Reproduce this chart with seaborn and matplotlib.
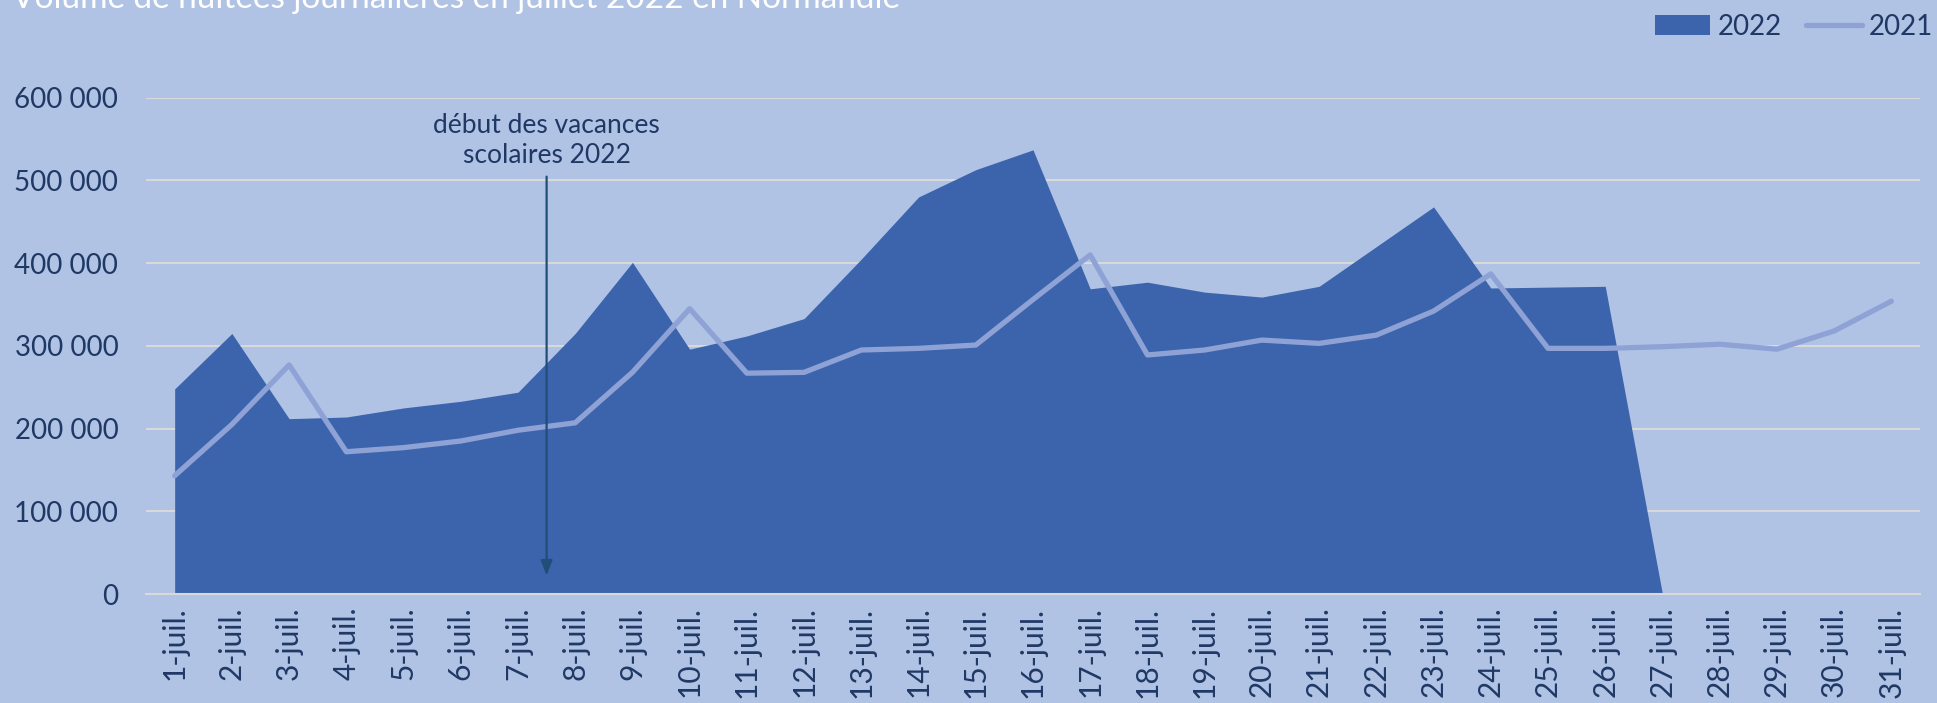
"""
Volume de nuitees journalieres en juillet 2022 en Normandie
- aire pleine pour 2022, courbe claire pour 2021
"""

import numpy as np
import pandas as pd
import matplotlib.pyplot as plt
from matplotlib.patches import Patch
from matplotlib.lines import Line2D
import seaborn as sns

# jours du mois de juillet
jours = [f'{d}-juil.' for d in range(1, 32)]

# nuitees 2022 (les donnees s'arretent au 27 juillet, a zero)
nuitees_2022 = [248000, 315000, 212000, 214000, 225000, 233000, 244000,
                315000, 401000, 296000, 312000, 333000, 405000, 480000,
                513000, 537000, 369000, 377000, 365000, 359000, 372000,
                420000, 468000, 370000, 371000, 372000, 0]

# nuitees 2021 (mois complet)
nuitees_2021 = [143000, 205000, 277000, 172000, 177000, 185000, 198000,
                207000, 268000, 345000, 267000, 268000, 295000, 297000,
                301000, 356000, 410000, 289000, 295000, 307000, 303000,
                313000, 342000, 387000, 297000, 297000, 299000, 302000,
                296000, 318000, 354000]

graduations = [0, 100000, 200000, 300000, 400000, 500000, 600000]

annotation = 'début des vacances\nscolaires 2022'
titre = 'Volume de nuitées journalières en juillet 2022 en Normandie'

# couleurs
FOND = '#B0C3E5'
AIRE = '#3C64AC'
LIGNE = '#8EA2D6'
GRILLE = '#D9D9D9'
TEXTE = '#1F3864'
FLECHE = '#1F4E79'


def prepare_data():
    df = pd.DataFrame({'jour': jours, 'n2021': nuitees_2021})
    df['pos'] = np.arange(len(df))
    # on complete 2022 avec des NA pour la fin du mois
    df['n2022'] = pd.Series(nuitees_2022, dtype=float)
    return df


def plot_nuitees(df):
    sns.set_style('white', {'axes.facecolor': FOND, 'figure.facecolor': FOND})
    plt.rcParams['font.family'] = ['Lato', 'DejaVu Sans']

    fig = plt.figure(figsize=(19.37, 7.03), dpi=100)
    ax = fig.add_axes([0.0754, 0.155, 0.9158, 0.706])

    # aire 2022
    d22 = df.dropna(subset=['n2022'])
    ax.fill_between(d22['pos'], 0, d22['n2022'], color=AIRE, lw=0, zorder=2)

    # courbe 2021
    sns.lineplot(data=df, x='pos', y='n2021', ax=ax, color=LIGNE, lw=3.8,
                 solid_capstyle='round', zorder=3)

    # fleche debut des vacances (entre le 7 et le 8 juillet)
    ax.annotate('', xy=(6.5, 19000), xytext=(6.5, 508000),
                arrowprops=dict(arrowstyle='-|>,head_length=0.9,head_width=0.35',
                                color=FLECHE, lw=1.6), zorder=4)
    ax.text(6.5, 548000, annotation, ha='center', va='center', fontsize=19,
            color=TEXTE, linespacing=1.25, zorder=4)

    # axes
    ax.set_xlim(-0.5, len(jours) - 0.5)
    ax.set_ylim(0, 600000)
    ax.set_xticks(df['pos'])
    ax.set_xticklabels(jours, rotation=90, fontsize=21.5, color=TEXTE)
    ax.set_xticks(np.arange(-0.5, len(jours), 1), minor=True)
    ax.tick_params(axis='x', which='major', length=0, pad=9)
    ax.tick_params(axis='x', which='minor', length=7, width=1.5, color=GRILLE)
    ax.set_yticks(graduations)
    ax.set_yticklabels([f'{v:,}'.replace(',', ' ') for v in graduations],
                       fontsize=20, color=TEXTE)
    ax.tick_params(axis='y', length=0, pad=20)
    ax.set_xlabel('')
    ax.set_ylabel('')

    ax.yaxis.grid(True, color=GRILLE, lw=1.5, zorder=1)
    ax.xaxis.grid(False)
    ax.set_axisbelow(True)
    for side in ['left', 'right', 'top']:
        ax.spines[side].set_visible(False)
    ax.spines['bottom'].set_color(GRILLE)
    ax.spines['bottom'].set_linewidth(1.5)
    ax.spines['bottom'].set_zorder(5)

    # legende en haut a droite
    handles = [Patch(facecolor=AIRE, edgecolor='none'),
               Line2D([], [], color=LIGNE, lw=3.8, solid_capstyle='round')]
    fig.legend(handles, ['2022', '2021'], loc='center right',
               bbox_to_anchor=(0.998, 0.962), ncol=2, frameon=False,
               fontsize=20, labelcolor=TEXTE, handlelength=2.0,
               handleheight=0.7, handletextpad=0.25, columnspacing=0.9,
               borderpad=0.0, borderaxespad=0.0)

    # titre (coupe en haut, comme sur l'original)
    fig.text(0.006, 1 - 8 / 703, titre, color='white', fontsize=24,
             va='baseline', ha='left')

    fig.savefig('out.png', dpi=100, facecolor=FOND)


nuitees = prepare_data()
plot_nuitees(nuitees)
